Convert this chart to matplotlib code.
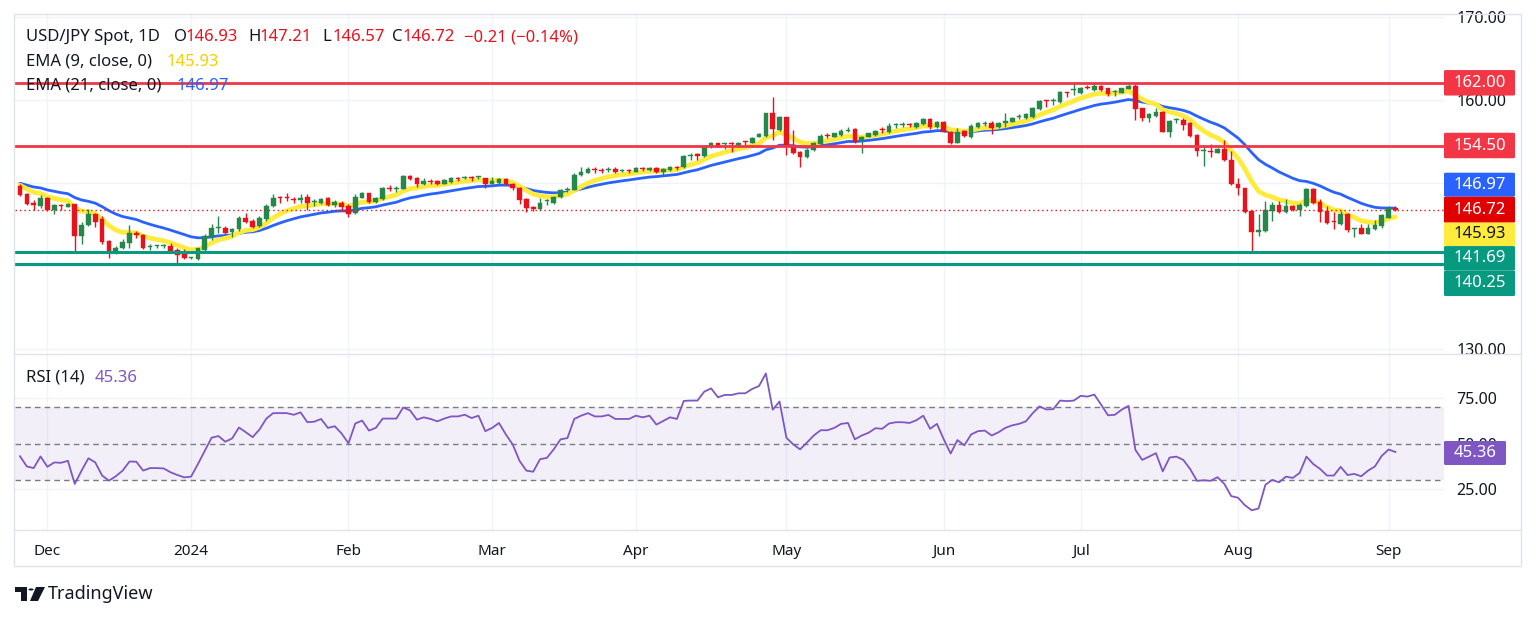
import matplotlib
matplotlib.use('Agg')
import matplotlib.pyplot as plt
import numpy as np
import pandas as pd
from matplotlib.patches import Rectangle, Polygon, Circle, FancyBboxPatch
from matplotlib.lines import Line2D

W, H = 1536, 618
plt.rcParams['font.family'] = ['Noto Sans', 'DejaVu Sans']

# ---------------- data ----------------
dates = pd.bdate_range('2023-11-27', '2024-09-03')

opens = [149.65, 148.73, 147.64, 147.24, 148.25, 146.76, 147.36, 147.16, 147.44, 143.63,
         144.95, 146.24, 145.64, 143.02, 141.62, 142.14, 142.82, 144.03, 143.75, 142.30,
         142.40, 142.38, 142.42, 141.90, 141.42, 140.98, 140.82, 141.90, 143.35, 144.55,
         144.63, 144.15, 144.43, 145.84, 145.43, 144.83, 145.64, 147.24, 148.25, 148.20,
         148.10, 147.92, 148.37, 147.70, 147.56, 148.25, 147.36, 147.64, 147.24, 146.36,
         148.25, 148.77, 147.76, 148.05, 149.40, 149.30, 149.33, 150.86, 150.57, 149.85,
         150.20, 150.25, 149.93, 150.17, 150.60, 150.65, 150.70, 150.72, 150.65, 149.85,
         150.00, 150.53, 149.93, 149.45, 148.12, 147.12, 146.84, 147.80, 147.64, 148.30,
         149.15, 149.15, 150.96, 151.24, 151.68, 151.52, 151.60, 151.68, 151.44, 151.46,
         151.36, 151.80, 151.56, 151.76, 151.36, 151.56, 151.90, 151.88, 153.30, 153.45,
         153.25, 154.45, 154.77, 154.65, 154.80, 154.57, 154.92, 154.85, 155.58, 155.66,
         158.39, 156.38, 157.90, 154.57, 153.77, 153.17, 153.97, 154.65, 155.80, 155.58,
         155.78, 156.30, 156.46, 155.18, 155.58, 155.78, 156.45, 156.18, 156.95, 157.02,
         157.02, 156.79, 157.10, 157.70, 156.79, 157.39, 156.18, 154.86, 156.26, 155.58,
         156.79, 157.15, 157.19, 156.70, 157.19, 157.39, 157.95, 157.79, 157.99, 158.87,
         159.90, 159.85, 159.72, 160.95, 161.15, 160.80, 161.52, 161.20, 161.70, 161.40,
         160.95, 160.80, 161.33, 161.70, 159.00, 157.79, 158.10, 158.59, 156.18, 157.55,
         157.59, 157.19, 155.78, 153.82, 153.82, 153.67, 154.07, 152.75, 149.93, 149.37,
         146.64, 144.15, 144.23, 146.64, 147.36, 146.56, 147.24, 146.72, 147.24, 149.25,
         147.76, 146.64, 145.44, 145.04, 146.24, 144.40, 144.55, 143.91, 144.51, 144.83,
         145.84, 146.93]

highs = [149.85, 148.85, 147.92, 148.57, 148.37, 147.44, 147.44, 147.56, 147.52, 145.35,
         146.84, 146.44, 146.04, 143.10, 142.42, 143.23, 144.95, 144.23, 143.83, 142.62,
         142.55, 142.70, 142.82, 142.14, 142.02, 141.10, 142.22, 143.83, 145.03, 146.04,
         144.83, 144.63, 146.04, 146.44, 145.64, 146.04, 147.44, 148.65, 148.45, 148.77,
         148.37, 148.65, 148.65, 148.05, 148.25, 148.37, 147.92, 147.84, 147.44, 148.65,
         148.97, 148.85, 148.33, 149.53, 149.73, 149.65, 150.98, 150.98, 150.74, 150.66,
         150.45, 150.33, 150.45, 150.74, 150.78, 150.90, 150.90, 150.90, 150.65, 150.74,
         150.66, 150.66, 150.05, 149.53, 148.17, 147.24, 148.25, 148.05, 148.45, 149.25,
         149.55, 151.16, 151.88, 151.88, 151.88, 151.76, 151.88, 151.96, 151.64, 151.64,
         151.88, 151.96, 151.96, 151.96, 151.76, 152.04, 152.04, 153.37, 153.65, 153.57,
         154.57, 154.97, 154.85, 154.85, 154.97, 154.97, 155.10, 155.58, 155.98, 158.47,
         160.40, 158.07, 157.99, 156.38, 153.89, 154.17, 154.97, 155.90, 156.06, 156.06,
         156.46, 156.78, 156.58, 155.66, 156.06, 156.38, 156.70, 157.18, 157.27, 157.31,
         157.19, 157.39, 157.87, 157.87, 157.47, 157.51, 156.26, 156.58, 156.38, 157.07,
         157.39, 157.47, 157.47, 157.39, 158.39, 157.99, 158.27, 158.39, 159.19, 160.00,
         160.00, 160.20, 161.08, 161.00, 161.89, 161.60, 161.80, 161.95, 161.80, 161.48,
         161.20, 161.48, 161.89, 161.89, 159.07, 158.39, 159.00, 158.67, 157.59, 157.87,
         157.79, 157.31, 155.86, 154.47, 154.67, 154.27, 155.16, 153.87, 150.66, 149.45,
         146.72, 146.32, 147.84, 147.76, 147.84, 148.05, 147.36, 147.64, 149.37, 149.37,
         148.05, 147.24, 146.56, 146.64, 146.44, 144.63, 145.03, 145.12, 145.52, 146.32,
         147.24, 147.21]

lows = [148.45, 147.32, 146.72, 146.96, 146.64, 146.32, 146.72, 147.12, 141.69, 142.62,
        144.83, 144.71, 142.70, 141.02, 141.42, 142.02, 142.22, 143.35, 142.02, 141.90,
        142.22, 142.14, 141.62, 140.25, 140.82, 140.90, 140.70, 141.82, 143.11, 144.03,
        143.83, 143.51, 144.23, 145.23, 144.55, 144.71, 145.44, 147.12, 147.64, 147.84,
        147.64, 147.64, 146.72, 147.24, 147.44, 147.24, 147.12, 146.64, 145.92, 146.32,
        148.17, 147.64, 147.64, 147.92, 149.05, 148.97, 149.25, 150.33, 149.53, 149.77,
        149.85, 149.77, 149.85, 150.05, 150.25, 150.45, 150.25, 150.45, 149.37, 149.85,
        149.85, 149.77, 149.13, 147.52, 146.56, 146.64, 146.72, 147.36, 147.52, 148.17,
        148.95, 149.15, 150.88, 151.16, 151.16, 151.16, 151.36, 151.16, 151.28, 151.24,
        151.28, 151.48, 151.48, 151.24, 150.96, 151.48, 151.56, 151.84, 152.77, 152.77,
        153.17, 154.17, 154.29, 154.05, 153.69, 154.45, 154.57, 154.77, 155.50, 155.58,
        155.18, 156.30, 153.37, 153.49, 151.96, 152.97, 153.89, 154.60, 155.38, 155.50,
        155.70, 156.18, 154.85, 153.65, 155.50, 155.70, 156.06, 156.06, 156.66, 156.79,
        156.79, 156.58, 156.99, 156.50, 156.66, 156.10, 154.66, 154.78, 155.50, 155.46,
        156.66, 156.91, 155.86, 156.58, 156.79, 157.31, 157.71, 157.71, 157.87, 158.79,
        159.19, 159.39, 159.59, 160.40, 160.60, 160.68, 161.32, 161.08, 161.08, 160.52,
        160.52, 160.80, 161.33, 157.59, 157.47, 157.39, 157.99, 156.10, 155.58, 157.19,
        156.38, 155.58, 153.29, 152.06, 153.15, 153.67, 152.67, 149.77, 148.57, 146.44,
        141.69, 143.63, 144.15, 145.44, 146.44, 146.44, 146.64, 146.04, 147.12, 147.52,
        145.36, 145.12, 144.43, 144.96, 144.15, 143.51, 143.83, 143.83, 144.31, 144.63,
        145.84, 146.57]

closes = [148.53, 147.44, 147.32, 148.25, 146.76, 147.32, 147.24, 147.44, 143.63, 144.95,
          146.24, 145.35, 142.94, 141.82, 142.22, 142.94, 144.03, 143.75, 142.14, 142.40,
          142.44, 142.46, 141.82, 141.34, 140.94, 141.02, 142.14, 143.63, 144.63, 144.70,
          144.03, 144.51, 145.84, 145.35, 144.71, 145.84, 147.24, 148.25, 148.20, 148.15,
          148.00, 148.25, 147.56, 147.80, 148.05, 147.36, 147.76, 147.12, 146.32, 148.33,
          148.77, 147.76, 148.25, 149.37, 149.30, 149.40, 150.86, 150.45, 149.85, 150.25,
          150.12, 149.85, 150.33, 150.57, 150.52, 150.72, 150.62, 150.78, 149.85, 150.25,
          150.53, 149.85, 149.37, 147.92, 147.04, 146.84, 147.64, 147.85, 148.33, 149.10,
          149.30, 150.96, 151.36, 151.68, 151.60, 151.46, 151.66, 151.36, 151.50, 151.40,
          151.76, 151.72, 151.84, 151.36, 151.68, 151.88, 151.84, 153.25, 153.38, 153.30,
          154.45, 154.77, 154.37, 154.72, 154.75, 154.85, 154.88, 155.45, 155.86, 158.39,
          156.46, 157.90, 154.57, 153.65, 153.17, 153.97, 154.85, 155.66, 155.72, 155.98,
          156.30, 156.38, 154.97, 155.58, 155.98, 156.30, 156.38, 156.86, 157.00, 157.07,
          156.97, 157.19, 157.70, 156.79, 157.39, 156.18, 154.78, 156.10, 155.70, 156.90,
          157.19, 157.22, 156.67, 157.19, 157.47, 157.87, 158.00, 158.27, 159.07, 159.88,
          159.85, 159.90, 160.92, 160.88, 161.22, 161.48, 161.45, 161.70, 161.20, 160.68,
          161.00, 161.40, 161.70, 158.91, 157.79, 158.27, 158.59, 156.18, 157.47, 157.60,
          156.99, 155.70, 153.85, 153.90, 153.78, 154.07, 152.75, 149.85, 149.37, 146.56,
          144.15, 144.30, 146.72, 147.36, 146.56, 147.20, 146.72, 147.36, 149.25, 147.64,
          146.56, 145.23, 145.32, 146.32, 144.31, 144.46, 143.91, 144.63, 144.95, 146.16,
          146.96, 146.72]

rsi_values = [43.0, 37.4, 36.5, 42.9, 37.2, 39.6, 39.4, 40.5, 27.8, 35.1,
              41.9, 39.6, 32.4, 29.6, 32.0, 35.1, 40.1, 40.0, 35.1, 36.5,
              36.5, 36.3, 34.2, 32.7, 31.4, 31.8, 38.7, 45.9, 53.2, 54.1,
              51.0, 52.8, 58.8, 56.2, 53.5, 57.7, 63.7, 66.7, 66.7, 66.7,
              65.8, 67.1, 61.7, 62.0, 63.5, 58.6, 59.5, 55.5, 50.1, 61.0,
              62.6, 57.1, 58.6, 63.7, 63.7, 63.7, 69.8, 68.2, 63.1, 64.4,
              63.5, 62.2, 63.7, 64.9, 64.9, 65.8, 64.0, 65.3, 56.8, 58.6,
              61.3, 55.0, 49.5, 40.5, 35.1, 34.5, 41.4, 42.1, 46.8, 52.3,
              53.0, 63.5, 65.3, 66.7, 64.9, 64.9, 65.7, 63.5, 63.5, 63.5,
              65.3, 64.4, 65.3, 60.4, 62.4, 64.4, 63.5, 73.4, 73.6, 73.6,
              78.5, 80.3, 75.4, 76.7, 76.7, 77.6, 77.6, 80.0, 81.6, 88.5,
              68.6, 73.1, 53.2, 49.5, 46.8, 50.5, 54.4, 57.3, 57.3, 58.6,
              60.8, 61.3, 52.3, 54.4, 55.9, 58.4, 58.1, 61.0, 61.7, 61.7,
              61.3, 62.8, 65.3, 58.1, 60.8, 52.3, 44.5, 51.9, 49.0, 55.0,
              56.8, 57.1, 54.4, 56.2, 58.6, 60.0, 60.8, 62.2, 66.7, 70.4,
              68.7, 68.9, 73.6, 73.3, 73.6, 76.2, 75.8, 76.9, 71.3, 65.5,
              65.8, 68.6, 70.7, 46.5, 41.0, 42.8, 44.7, 34.7, 42.3, 42.8,
              41.0, 36.0, 29.5, 29.8, 29.5, 31.5, 27.8, 21.1, 20.2, 16.1,
              13.3, 14.3, 27.3, 30.0, 28.7, 31.8, 31.1, 33.8, 42.8, 38.7,
              36.0, 32.4, 32.4, 37.2, 32.7, 33.3, 32.0, 35.1, 37.4, 43.2,
              46.7, 45.36]

levels_red = [162.00, 154.50]
levels_green = [141.69, 140.25]
last_price = 146.72
ema9_seed, ema21_seed = 149.73, 149.97     # EMA values at first visible bar
ema9_last, ema21_last, rsi_last = 145.93, 146.97, 45.36
month_names = ['Dec', '2024', 'Feb', 'Mar', 'Apr', 'May', 'Jun', 'Jul', 'Aug', 'Sep']
price_grid = [130, 140, 150, 160, 170]
price_labeled = [130, 160, 170]          # 140 / 150 are hidden behind the value tags
rsi_ticks = [25, 50, 75]
rsi_band = (30, 70)
header_ohlc = ['146.93', '147.21', '146.57', '146.72']
header_change = '\u22120.21 (\u22120.14%)'

# ---------------- styles ----------------
UP = '#26874a'
DOWN = '#e8121c'
RED_LINE = '#f23645'
GREEN_LINE = '#089981'
BLUE = '#2962ff'
YELLOW = '#ffeb3b'
PURPLE = '#7e57c2'
GRID = '#f0f3fa'
TXT = '#131722'
BORDER = '#e0e3eb'


def ema(values, n, seed):
    k = 2.0 / (n + 1)
    out = [seed]
    for v in values[1:]:
        out.append(out[-1] + k * (v - out[-1]))
    return np.array(out)


O = np.array(opens); Hh = np.array(highs); L = np.array(lows); C = np.array(closes)
x = np.arange(len(C))
ema9 = ema(closes, 9, ema9_seed)
ema21 = ema(closes, 21, ema21_seed)

fig = plt.figure(figsize=(W / 100, H / 100), dpi=100)
fig.patch.set_facecolor('white')


def fx(px):
    return px / W


def fy(py):
    return 1 - py / H


left, right = 15, 1444
ax = fig.add_axes([fx(left), fy(354), (right - left) / W, (354 - 14) / H])
axr = fig.add_axes([fx(left), fy(530), (right - left) / W, (530 - 354) / H], sharex=ax)

for a in (ax, axr):
    for s in a.spines.values():
        s.set_visible(False)
    a.set_facecolor('white')

ax.set_xlim(-0.73, 208.1)
ax.set_ylim(129.40, 170.36)
axr.set_ylim(2.47, 99.2)

# month ticks at first bar of each month
month_pos = []
for per in pd.period_range('2023-12', '2024-09', freq='M'):
    idx = np.where((dates.year == per.year) & (dates.month == per.month))[0][0]
    month_pos.append(idx)

for a in (ax, axr):
    for mp in month_pos:
        a.axvline(mp, color=GRID, lw=1, zorder=0)
for t in price_grid:
    ax.axhline(t, color=GRID, lw=1, zorder=0)
for t in rsi_ticks:
    if t != 50:
        axr.axhline(t, color=GRID, lw=1, zorder=0)

# EMAs
ax.plot(x, ema21, color=BLUE, lw=2.0, zorder=2, solid_capstyle='round')
ax.plot(x, ema9, color=YELLOW, lw=3.4, zorder=2.1, solid_capstyle='round')

# candles
up = C >= O
cols = np.where(up, UP, DOWN)
ax.vlines(x, np.minimum(L, np.minimum(O, C)), np.maximum(Hh, np.maximum(O, C)),
          colors=cols, lw=1.0, zorder=3)
body_h = np.maximum(np.abs(C - O), 0.12)
ax.bar(x, body_h, bottom=np.minimum(O, C), width=0.68, color=cols, edgecolor=cols,
       linewidth=0.3, zorder=3.1)

# horizontal levels
for lv in levels_red:
    ax.axhline(lv, color=RED_LINE, lw=2.0, zorder=4)
for lv in levels_green:
    ax.axhline(lv, color=GREEN_LINE, lw=2.2, zorder=4)
ax.axhline(last_price, color=DOWN, lw=1.0, ls=(0, (1, 2.2)), zorder=4)

# price axis
ax.yaxis.tick_right()
ax.set_yticks(price_labeled)
ax.set_yticklabels([f'{t:.2f}' for t in price_labeled])
ax.tick_params(axis='y', length=0, pad=9, labelsize=11.5, labelcolor=TXT)
ax.tick_params(axis='x', length=0, labelbottom=False)

# RSI pane
axr.axhspan(rsi_band[0], rsi_band[1], color=PURPLE, alpha=0.09, lw=0, zorder=0.5)
for lv in (rsi_band[1], 50, rsi_band[0]):
    axr.axhline(lv, color='#787b86', lw=1.0, ls=(0, (4, 3)), zorder=1)
axr.plot(x, rsi_values, color=PURPLE, lw=1.3, zorder=3)
axr.yaxis.tick_right()
axr.set_yticks(rsi_ticks)
axr.set_yticklabels([f'{t:.2f}' for t in rsi_ticks])
axr.tick_params(axis='y', length=0, pad=9, labelsize=11.5, labelcolor=TXT)
axr.set_xticks(month_pos)
axr.set_xticklabels(month_names)
axr.tick_params(axis='x', length=0, pad=10, labelsize=11, labelcolor=TXT)
for lab in axr.get_xticklabels():
    if lab.get_text() == '2024':
        lab.set_fontweight('bold')

# frame lines
fig.add_artist(Rectangle((fx(14), fy(566)), (1521 - 14) / W, (566 - 14) / H,
                         transform=fig.transFigure, fill=False, ec=BORDER, lw=1.0, zorder=1))
fig.add_artist(Line2D([fx(14), fx(1521)], [fy(354), fy(354)], transform=fig.transFigure,
                      color=BORDER, lw=1.0, zorder=1))
fig.add_artist(Line2D([fx(14), fx(1521)], [fy(530), fy(530)], transform=fig.transFigure,
                      color=BORDER, lw=1.0, zorder=1))

# header texts
fs = 12
row1 = 37
fig.text(fx(26), fy(row1), 'USD/JPY Spot, 1D', color=TXT, fontsize=fs, va='center')
hx = [(174, 'O', TXT), (186, header_ohlc[0], DOWN), (248, 'H', TXT), (260, header_ohlc[1], DOWN),
      (322, 'L', TXT), (333, header_ohlc[2], DOWN), (392, 'C', TXT), (403, header_ohlc[3], DOWN),
      (464, header_change, DOWN)]
for px, s, c in hx:
    fig.text(fx(px), fy(row1), s, color=c, fontsize=fs, va='center')
fig.text(fx(26), fy(62), 'EMA (9, close, 0)', color=TXT, fontsize=fs, va='center')
fig.text(fx(167), fy(62), f'{ema9_last:.2f}', color='#f5d000', fontsize=fs, va='center')
fig.text(fx(26), fy(86), 'EMA (21, close, 0)', color=TXT, fontsize=fs, va='center')
fig.text(fx(177), fy(86), f'{ema21_last:.2f}', color=BLUE, fontsize=fs, va='center')
fig.text(fx(26), fy(378), 'RSI (14)', color=TXT, fontsize=fs, va='center')
fig.text(fx(95), fy(378), f'{rsi_last:.2f}', color=PURPLE, fontsize=fs, va='center')


# right-side value tags
def vbox(yc, h, fc, s, tc, x0=1444, w=71):
    fig.add_artist(FancyBboxPatch((fx(x0), fy(yc + h / 2)), w / W, h / H,
                                  boxstyle='round,pad=0,rounding_size=0.0015',
                                  transform=fig.transFigure, fc=fc, ec='none', zorder=10))
    fig.text(fx(x0 + w / 2), fy(yc), s, ha='center', va='center', color=tc,
             fontsize=12, fontweight='semibold', zorder=11)


vbox(82.8, 25.5, RED_LINE, f'{levels_red[0]:.2f}', 'white')
vbox(145.5, 25.5, RED_LINE, f'{levels_red[1]:.2f}', 'white')
vbox(184.7, 24, BLUE, f'{ema21_last:.2f}', 'white')
vbox(209.7, 26, '#e00000', f'{last_price:.2f}', 'white')
vbox(234.3, 23.5, YELLOW, f'{ema9_last:.2f}', TXT)
vbox(258.3, 24.5, GREEN_LINE, f'{levels_green[0]:.2f}', 'white')
vbox(283.3, 25.5, GREEN_LINE, f'{levels_green[1]:.2f}', 'white')
vbox(453, 24, PURPLE, f'{rsi_last:.2f}', 'white', w=62)

# TradingView logo
fig.add_artist(Polygon([(fx(15), fy(587)), (fx(27), fy(587)), (fx(27), fy(601)), (fx(21), fy(601)),
                        (fx(21), fy(592)), (fx(15), fy(592))], closed=True, transform=fig.transFigure,
                       fc=TXT, ec='none'))
fig.add_artist(Circle((fx(31), fy(589.5)), 2.6 / W, transform=fig.transFigure, fc=TXT, ec='none'))
fig.add_artist(Polygon([(fx(36), fy(587)), (fx(45), fy(587)), (fx(38), fy(601)), (fx(30), fy(601))],
                       closed=True, transform=fig.transFigure, fc=TXT, ec='none'))
fig.text(fx(48), fy(594), 'TradingView', color=TXT, fontsize=13, va='center')

fig.savefig('out.png', dpi=100, facecolor='white')
